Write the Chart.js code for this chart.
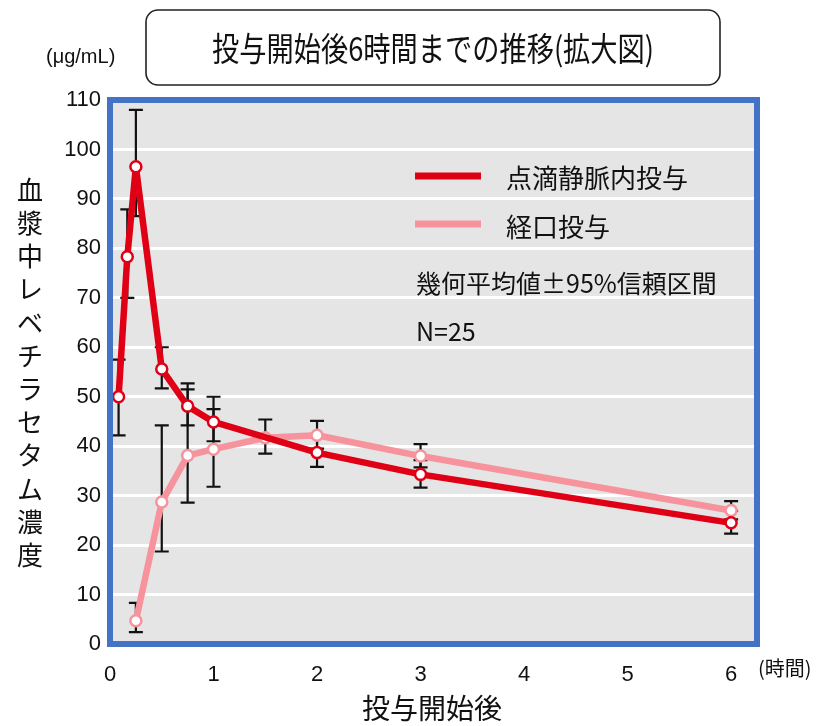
<!DOCTYPE html>
<html>
<head>
<meta charset="utf-8">
<script src="https://cdn.jsdelivr.net/npm/chart.js@4/dist/chart.umd.min.js"></script>
<style>
  html, body { margin: 0; padding: 0; background: #fff; }
  #wrap { width: 817px; height: 726px; }
</style>
</head>
<body>
<div id="wrap"><canvas id="chartPK" width="817" height="726"></canvas></div>
<script>
// 点滴静脈内投与
const ivTime = [0.083, 0.167, 0.25, 0.5, 0.75, 1, 2, 3, 6];
const ivMean = [50, 78.3, 96.5, 55.6, 48.1, 44.9, 38.7, 34.3, 24.5];
const ivLow  = [42.2, 70, 86.5, 51.7, 44.2, 41.0, 35.8, 31.6, 22.3];
const ivHigh = [57.5, 87.9, 108, 60, 52.7, 50, 41.8, 37.2, 26.9];

// 経口投与
const poTime = [0.25, 0.5, 0.75, 1, 1.5, 2, 3, 6];
const poMean = [4.7, 28.7, 38.1, 39.4, 41.7, 42.2, 38.0, 27.0];
const poLow  = [2.4, 18.7, 28.6, 31.8, 38.5, 39.5, 35.7, 25.2];
const poHigh = [8.3, 44.2, 51.5, 47.5, 45.4, 45.1, 40.4, 28.9];

const xTicks = [0, 1, 2, 3, 4, 5, 6];
const yTicks = [0, 10, 20, 30, 40, 50, 60, 70, 80, 90, 100, 110];

const RED = "#e00016";
const PINK = "#f7939d";
const NUM_FONT = "'Liberation Sans Narrow', 'Liberation Sans', Arial, sans-serif";
const JP_FONT = "'Noto Sans CJK JP', sans-serif";

const errorBars = {
    id: "errorBars",
    beforeDatasetsDraw(chart) {
        const ctx = chart.ctx;
        const x = chart.scales.x, y = chart.scales.y;
        const sets = [[ivTime, ivLow, ivHigh], [poTime, poLow, poHigh]];
        ctx.save();
        ctx.strokeStyle = "#111";
        ctx.lineWidth = 2.2;
        sets.forEach(([t, lo, hi]) => {
            t.forEach((v, i) => {
                const px = x.getPixelForValue(v);
                const p1 = y.getPixelForValue(lo[i]);
                const p2 = y.getPixelForValue(hi[i]);
                ctx.beginPath();
                ctx.moveTo(px, p1); ctx.lineTo(px, p2);
                ctx.moveTo(px - 7, p1); ctx.lineTo(px + 7, p1);
                ctx.moveTo(px - 7, p2); ctx.lineTo(px + 7, p2);
                ctx.stroke();
            });
        });
        ctx.restore();
    }
};

const decor = {
    id: "decor",
    beforeDraw(chart) {
        const { ctx, chartArea: a } = chart;
        ctx.save();
        ctx.fillStyle = "#e5e5e5";
        ctx.fillRect(a.left, a.top, a.right - a.left, a.bottom - a.top);
        ctx.restore();
    },
    afterDraw(chart) {
        const { ctx, chartArea: a } = chart;
        ctx.save();
        // blue frame
        ctx.strokeStyle = "#4472c4";
        ctx.lineWidth = 6;
        ctx.strokeRect(a.left, a.top, a.right - a.left, a.bottom - a.top);

        // title box
        ctx.strokeStyle = "#222";
        ctx.lineWidth = 1.6;
        ctx.beginPath();
        ctx.roundRect(146, 10, 574, 75, 12);
        ctx.stroke();

        ctx.fillStyle = "#111";
        ctx.textBaseline = "middle";
        const title = "投与開始後6時間までの推移(拡大図)";
        ctx.font = "33px " + JP_FONT;
        const w = ctx.measureText(title).width;
        const sx = 442 / w;
        ctx.save();
        ctx.translate(433, 48);
        ctx.scale(sx, 1);
        ctx.textAlign = "center";
        ctx.fillText(title, 0, 0);
        ctx.restore();

        // unit
        ctx.textAlign = "left";
        ctx.font = "20px " + NUM_FONT;
        ctx.fillText("(μg/mL)", 46, 57);

        // y title, stacked characters
        ctx.textAlign = "center";
        ctx.font = "26px " + JP_FONT;
        const yTitle = "血漿中レベチラセタム濃度";
        [...yTitle].forEach((c, i) => ctx.fillText(c, 30, 190 + i * 33.2));

        // x title
        ctx.font = "28px " + JP_FONT;
        ctx.fillText("投与開始後", 432, 708);

        // x unit
        ctx.textAlign = "left";
        ctx.font = "20px " + JP_FONT;
        ctx.fillText("(時間)", 758, 668);

        // legend
        ctx.lineWidth = 7;
        ctx.strokeStyle = RED;
        ctx.beginPath(); ctx.moveTo(415, 176); ctx.lineTo(481, 176); ctx.stroke();
        ctx.strokeStyle = PINK;
        ctx.beginPath(); ctx.moveTo(415, 224); ctx.lineTo(481, 224); ctx.stroke();
        ctx.fillStyle = "#111";
        ctx.font = "26px " + JP_FONT;
        ctx.fillText("点滴静脈内投与", 506, 178);
        ctx.fillText("経口投与", 506, 227);
        ctx.font = "25px " + JP_FONT;
        ctx.fillText("幾何平均値±95%信頼区間", 416, 283);
        ctx.fillText("N=25", 416, 331);
        ctx.restore();
    }
};

new Chart(document.getElementById("chartPK"), {
    type: "line",
    data: {
        datasets: [{
            label: "点滴静脈内投与",
            data: ivTime.map((t, i) => ({ x: t, y: ivMean[i] })),
            borderColor: RED,
            borderWidth: 6.5,
            borderJoinStyle: "round",
            pointBackgroundColor: "#fff",
            pointBorderColor: RED,
            pointBorderWidth: 2.5,
            pointRadius: 5.5,
            tension: 0
        }, {
            label: "経口投与",
            data: poTime.map((t, i) => ({ x: t, y: poMean[i] })),
            borderColor: PINK,
            borderWidth: 6.5,
            borderJoinStyle: "round",
            pointBackgroundColor: "#fff",
            pointBorderColor: PINK,
            pointBorderWidth: 2.5,
            pointRadius: 5.5,
            tension: 0
        }]
    },
    options: {
        responsive: false,
        animation: false,
        layout: { padding: { top: 100, right: 60, left: 0, bottom: 0 } },
        plugins: {
            legend: { display: false },
            tooltip: { enabled: false }
        },
        scales: {
            x: {
                type: "linear",
                min: 0,
                max: 6.25,
                afterBuildTicks: s => { s.ticks = xTicks.map(v => ({ value: v })); },
                afterFit: s => { s.height = 82; },
                grid: { display: false },
                border: { display: false },
                ticks: {
                    color: "#111",
                    padding: 10,
                    maxRotation: 0,
                    font: { family: NUM_FONT, size: 22 }
                }
            },
            y: {
                min: 0,
                max: 110,
                afterBuildTicks: s => { s.ticks = yTicks.map(v => ({ value: v })); },
                afterFit: s => { s.width = 110; },
                grid: { color: "#ffffff", lineWidth: 3, drawTicks: false },
                border: { display: false },
                ticks: {
                    color: "#111",
                    padding: 9,
                    font: { family: NUM_FONT, size: 22 }
                }
            }
        }
    },
    plugins: [decor, errorBars]
});
</script>
</body>
</html>
